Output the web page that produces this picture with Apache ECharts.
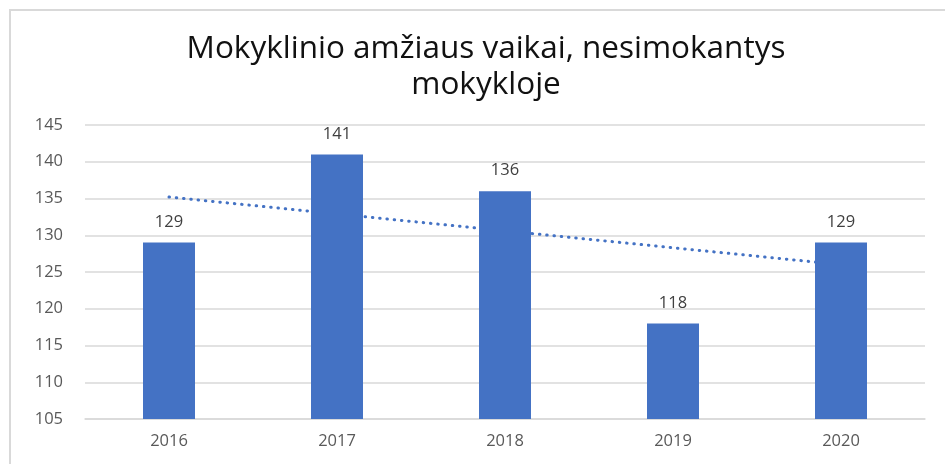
<!DOCTYPE html>
<html>
<head>
<meta charset="utf-8">
<script src="https://cdn.jsdelivr.net/npm/echarts@6/dist/echarts.min.js"></script>
<style>
  html, body { margin: 0; padding: 0; background: #fff; }
  #chart { width: 945px; height: 464px; }
</style>
</head>
<body>
<div id="chart"></div>
<script>
// Duomenys
const years = ['2016', '2017', '2018', '2019', '2020']
const children = [129, 141, 136, 118, 129]
// tendencijos linijos galai (nuskaityta nuo paveikslo)
const trendYears = ['2016', '2020']
const trendValues = [135.2, 126.0]
const yTicks = { min: 105, max: 145, step: 5 }

const chart = echarts.init(document.getElementById('chart'))

chart.setOption({
  animation: false,
  title: {
    text: 'Mokyklinio amžiaus vaikai, nesimokantys\nmokykloje',
    left: 481,
    top: 26,
    textAlign: 'center',
    textStyle: {
      fontFamily: 'Open Sans',
      fontSize: 31.5,
      fontWeight: 'normal',
      color: '#111',
      lineHeight: 36
    }
  },
  graphic: [
    {
      type: 'rect',
      shape: { x: 10, y: 10, width: 960, height: 480 },
      style: { fill: 'none', stroke: '#d9d9d9', lineWidth: 2 }
    }
  ],
  grid: { left: 85, right: 20, top: 125, bottom: 45 },
  xAxis: {
    type: 'category',
    data: years,
    axisLine: { show: true, lineStyle: { color: '#d9d9d9', width: 1.5 } },
    axisTick: { show: false },
    axisLabel: { color: '#595959', fontSize: 16.5, fontFamily: 'Open Sans', margin: 14 }
  },
  yAxis: {
    type: 'value',
    min: yTicks.min,
    max: yTicks.max,
    interval: yTicks.step,
    axisLine: { show: false },
    axisTick: { show: false },
    splitLine: { lineStyle: { color: '#d9d9d9', width: 1.5 } },
    axisLabel: { color: '#595959', fontSize: 16.5, fontFamily: 'Open Sans', margin: 22 }
  },
  series: [
    {
      name: 'Tendencija',
      type: 'line',
      data: trendYears.map((y, i) => [y, trendValues[i]]),
      symbol: 'none',
      z: 1,
      lineStyle: { color: '#4472c4', width: 3, type: [0.5, 6.8], cap: 'round' }
    },
    {
      name: 'Vaikai',
      type: 'bar',
      data: children,
      barWidth: 52,
      z: 2,
      itemStyle: { color: '#4472c4' },
      label: {
        show: true,
        position: 'top',
        distance: 12,
        color: '#404040',
        fontSize: 16.5,
        fontFamily: 'Open Sans'
      }
    }
  ]
})
</script>
</body>
</html>
